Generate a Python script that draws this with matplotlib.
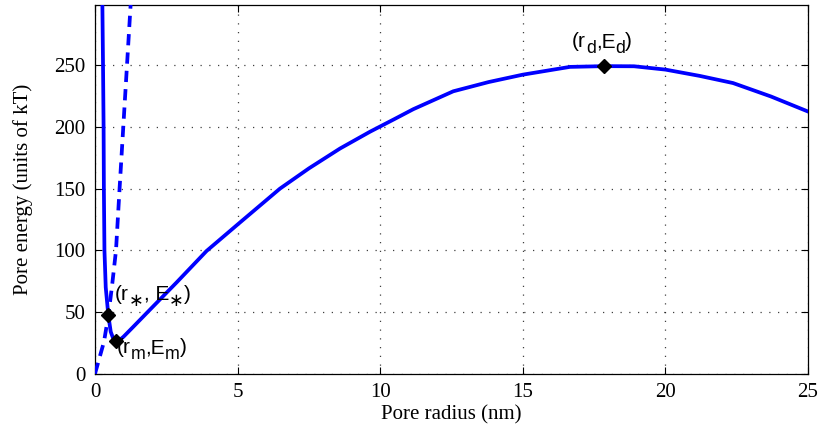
import matplotlib
matplotlib.use('Agg')
import matplotlib.pyplot as plt
import numpy as np

# solid curve: pore energy vs radius
r_pore = [0.24, 0.257, 0.28, 0.30, 0.31, 0.33, 0.375, 0.467, 0.55, 0.63, 0.725, 0.85, 1.0,
          1.34, 1.93, 2.86, 3.91, 4.62, 5.0, 6.48, 7.5, 8.59, 9.64, 10.5, 11.16, 12.56,
          13.8, 15.0, 16.65, 17.85, 18.9, 20.0, 21.2, 22.37, 23.7, 25.0]
E_pore = [330, 300, 250, 200, 150, 100, 70, 47.2, 34, 29, 26.5, 27, 30,
          38, 52, 74, 99.5, 113.5, 121, 150, 166.5, 182.6, 196.2, 206.5, 214.5, 229,
          236.5, 242.5, 248.8, 249.4, 249.3, 246.6, 241.5, 235.7, 224.8, 212.6]

# dashed curve
r_dash = [0.0, 0.315, 0.467, 0.6, 0.735, 0.86, 0.99, 1.12, 1.25, 1.32]
E_dash = [0, 26, 47.2, 72, 100, 150, 200, 250, 300, 330]

# marked points and their labels (pieces: text, is_subscript)
pt_r = [0.467, 0.725, 17.85]
pt_E = [47.2, 26.5, 249.4]
lbl_star = [('(r', 0), ('\u2217', 1), (', E', 0), ('\u2217', 1), (')', 0)]
lbl_m = [('(r', 0), ('m', 1), (',E', 0), ('m', 1), (')', 0)]
lbl_d = [('(r', 0), ('d', 1), (',E', 0), ('d', 1), (')', 0)]

plt.rcParams['font.family'] = ['Liberation Serif', 'DejaVu Serif']

fig = plt.figure(figsize=(8.2, 4.34), dpi=100)
ax = fig.add_axes([0.1159, 0.139, 0.8695, 0.8495])

ax.plot(r_dash, E_dash, color='#0000ff', lw=2.7, ls=(0, (3.0, 1.9)), zorder=3)
ax.plot(r_pore, E_pore, color='#0000ff', lw=2.7, zorder=3)
ax.plot(pt_r, pt_E, ls='none', marker='D', ms=7, color='k', zorder=4)

ax.set_xlim(0, 25)
ax.set_ylim(0, 299)
ax.set_xticks([0, 5, 10, 15, 20, 25])
ax.set_yticks([0, 50, 100, 150, 200, 250])
ax.tick_params(direction='in', top=True, right=True, labelsize=15, length=5, width=0.8, pad=7)
ax.grid(True, ls=(0, (1, 6)), color='k', lw=0.9, alpha=0.75)
for s in ax.spines.values():
    s.set_linewidth(0.9)

ax.set_xlabel('Pore radius (nm)', fontsize=15, labelpad=2)
ax.set_ylabel('Pore energy (units of kT)', fontsize=15, labelpad=15)

renderer = fig.canvas.get_renderer()


def put_label(pieces, x_px, y_px, size=15):
    # x_px, y_px: left / baseline in pixels from the top-left corner
    x = x_px
    for txt, sub in pieces:
        fs = size * 0.85 if sub else size
        yy = y_px + (6 if sub else 0)
        fam = ['Liberation Sans', 'DejaVu Sans']
        t = fig.text(x / 820, 1 - yy / 434, txt, fontsize=fs, family=fam,
                     ha='left', va='baseline')
        bb = t.get_window_extent(renderer)
        x += bb.width


put_label(lbl_star, 115, 300)
put_label(lbl_m, 117, 353)
put_label(lbl_d, 572, 47)

fig.savefig('out.png', dpi=100)
